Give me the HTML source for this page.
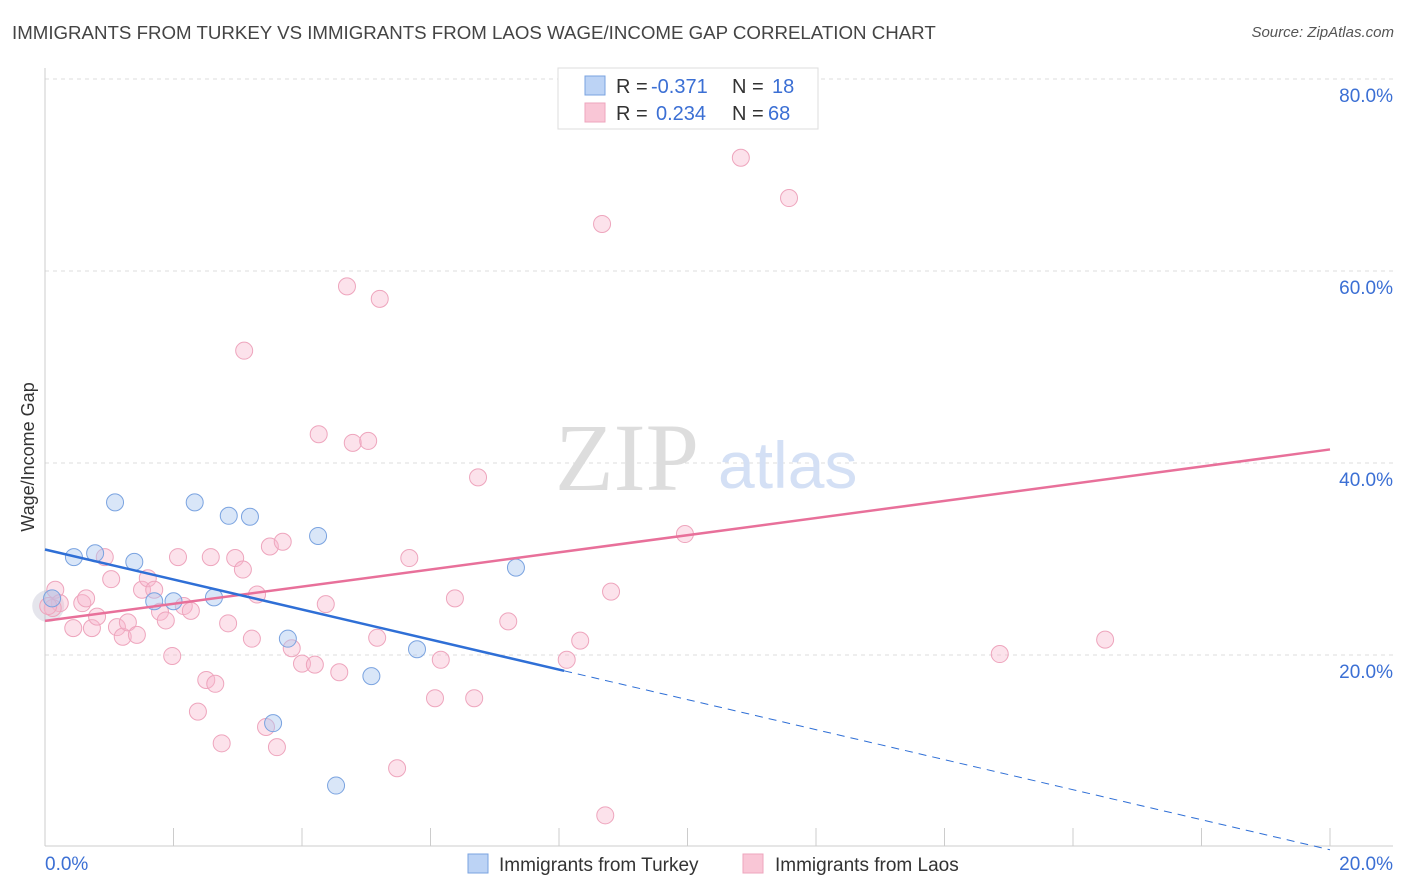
<!DOCTYPE html>
<html><head><meta charset="utf-8">
<style>
body{margin:0;background:#fff;font-family:"Liberation Sans",sans-serif;}
#wrap{position:relative;width:1406px;height:892px;overflow:hidden;}
.title{position:absolute;left:12px;top:22px;font-size:18.7px;color:#444;}
.source{position:absolute;right:12px;top:24px;font-size:15px;color:#555;font-style:italic;}
</style></head><body>
<div id="wrap">
<div class="title">IMMIGRANTS FROM TURKEY VS IMMIGRANTS FROM LAOS WAGE/INCOME GAP CORRELATION CHART</div>
<div class="source">Source: ZipAtlas.com</div>
<svg id="svg" width="1406" height="892" style="position:absolute;left:0;top:0"></svg>
</div>
<script>
const turkeyX=[0.11,0.45,0.78,1.09,1.39,1.70,2.00,2.33,2.63,2.86,3.19,3.78,3.55,4.25,4.53,5.08,5.79,7.33];
const turkeyY=[25.9,30.2,30.6,35.9,29.7,25.6,25.6,35.9,26.0,34.5,34.4,21.7,12.9,32.4,6.4,17.8,20.6,29.1];
const laosX=[0.16,0.23,0.12,0.44,0.58,0.64,0.73,0.81,0.93,1.03,1.12,1.21,1.29,1.43,1.51,1.60,1.70,1.79,1.88,1.98,2.07,2.16,2.27,2.38,2.51,2.65,2.58,2.75,2.85,2.96,3.08,3.10,3.22,3.30,3.44,3.50,3.61,3.70,3.84,4.00,4.20,4.26,4.37,4.58,4.70,4.79,5.03,5.17,5.21,5.48,5.67,6.07,6.16,6.38,6.68,6.74,7.21,8.12,8.33,8.67,8.72,8.81,9.96,10.83,11.58,14.86,16.50,0.05];
const laosY=[26.8,25.4,24.9,22.8,25.4,25.9,22.8,24.0,30.2,27.9,22.9,21.9,23.4,22.1,26.8,28.0,26.8,24.5,23.6,19.9,30.2,25.1,24.6,14.1,17.4,17.0,30.2,10.8,23.3,30.1,28.9,51.7,21.7,26.3,12.5,31.3,10.4,31.8,20.7,19.1,19.0,43.0,25.3,18.2,58.4,42.1,42.3,21.8,57.1,8.2,30.1,15.5,19.5,25.9,15.5,38.5,23.5,19.5,21.5,64.9,3.3,26.6,32.6,71.8,67.6,20.1,21.6,25.1];
const yTicks=[20,40,60,80];
const yTickLabels=["20.0%","40.0%","60.0%","80.0%"];
const xTickVals=[0,2,4,6,8,10,12,14,16,18,20];

const X=v=>45+v/20*1285;
const Y=v=>847-v*9.6;
const svg=document.getElementById('svg');
const NS='http://www.w3.org/2000/svg';
function mk(t,a,p){const e=document.createElementNS(NS,t);for(const k in a)e.setAttribute(k,a[k]);(p||svg).appendChild(e);return e;}

yTicks.forEach((t,i)=>{
 const g=mk('line',{x1:45,x2:1393,y1:Y(t),y2:Y(t),stroke:'#ddd','stroke-dasharray':'4,4'});
 
 
 const tx=mk('text',{x:1393,y:Y(t)+23,'text-anchor':'end','font-size':19,fill:'#3b6fd4','font-family':'Liberation Sans, sans-serif'});
 tx.textContent=yTickLabels[i];
 
 
});
mk('line',{x1:45,x2:1393,y1:79,y2:79,stroke:'#ddd','stroke-dasharray':'4,4'});
mk('line',{x1:45,x2:45,y1:68,y2:846,stroke:'#ccc'});
mk('line',{x1:45,x2:1393,y1:846,y2:846,stroke:'#ccc'});
xTickVals.forEach(v=>{const t=mk('line',{x1:X(v),x2:X(v),y1:828,y2:846,stroke:'#ccc'});
 
 });
const xl0=mk('text',{x:45,y:870,'font-size':19,fill:'#3b6fd4'});xl0.textContent='0.0%';


const xl1=mk('text',{x:1393,y:870,'text-anchor':'end','font-size':19,fill:'#3b6fd4'});xl1.textContent='20.0%';


const yt=mk('text',{x:34,y:457,'text-anchor':'middle','font-size':18,fill:'#333',transform:'rotate(-90 34 457)'});yt.textContent='Wage/Income Gap';


const wm=mk('text',{x:555,y:490,'font-size':96,fill:'#ddd','font-family':'Liberation Serif, serif'});wm.textContent='ZIP';


const wm2=mk('text',{x:718,y:488,'font-size':66,fill:'#d4e0f5'});wm2.textContent='atlas';



function reg(xs,ys){const n=xs.length;let mx=0,my=0;for(let i=0;i<n;i++){mx+=xs[i];my+=ys[i];}mx/=n;my/=n;let sxy=0,sxx=0;for(let i=0;i<n;i++){sxy+=(xs[i]-mx)*(ys[i]-my);sxx+=(xs[i]-mx)**2;}const b=sxy/sxx;return [my-b*mx,b];}

mk('circle',{cx:X(0.05),cy:Y(25.1),r:16,fill:'rgba(180,180,200,0.35)'});

laosX.forEach((x,i)=>{const c=mk('circle',{cx:X(x),cy:Y(laosY[i]),r:8.5,fill:'rgba(247,182,204,0.4)',stroke:'#eea5bd','stroke-width':1});
 
 });
turkeyX.forEach((x,i)=>{const c=mk('circle',{cx:X(x),cy:Y(turkeyY[i]),r:8.5,fill:'rgba(170,200,240,0.45)',stroke:'#7aa3e0','stroke-width':1});
 
 });

const [pa,pb]=reg(laosX,laosY);
const pl=mk('line',{x1:X(0),y1:Y(pa),x2:X(20),y2:Y(pa+pb*20),stroke:'#e8709a','stroke-width':2.5});


const [ta,tb]=reg(turkeyX,turkeyY);
const xe=Math.max(...turkeyX)+0.75;
const tl=mk('line',{x1:X(0),y1:Y(ta),x2:X(xe),y2:Y(ta+tb*xe),stroke:'#2f6fd6','stroke-width':2.5});


const td=mk('line',{x1:X(xe),y1:Y(ta+tb*xe),x2:X(20),y2:Y(ta+tb*20),stroke:'#2f6fd6','stroke-width':1,'stroke-dasharray':'8,6'});



const lg=mk('g',{});


mk('rect',{x:558,y:68,width:260,height:61,fill:'#fff',stroke:'#ddd'},lg);
mk('rect',{x:585,y:76,width:20,height:19,fill:'#bcd3f5',stroke:'#7aa3e0'},lg);
mk('rect',{x:585,y:103,width:20,height:19,fill:'#f9c6d6',stroke:'#eea5bd'},lg);
function tt(x,y,s,c){const t=mk('text',{x:x,y:y,'font-size':20,fill:c},lg);t.textContent=s;return t;}
tt(616,93,'R =','#333');tt(651,93,'-0.371','#3b6fd4');tt(732,93,'N =','#333');tt(772,93,'18','#3b6fd4');
tt(616,120,'R =','#333');tt(656,120,'0.234','#3b6fd4');tt(732,120,'N =','#333');tt(768,120,'68','#3b6fd4');

const bl=mk('g',{});


mk('rect',{x:468,y:854,width:20,height:19,fill:'#bcd3f5',stroke:'#7aa3e0'},bl);
const b1=mk('text',{x:499,y:871,'font-size':19,fill:'#333'},bl);b1.textContent='Immigrants from Turkey';
mk('rect',{x:743,y:854,width:20,height:19,fill:'#f9c6d6',stroke:'#eea5bd'},bl);
const b2=mk('text',{x:775,y:871,'font-size':19,fill:'#333'},bl);b2.textContent='Immigrants from Laos';
</script>
</body></html>
